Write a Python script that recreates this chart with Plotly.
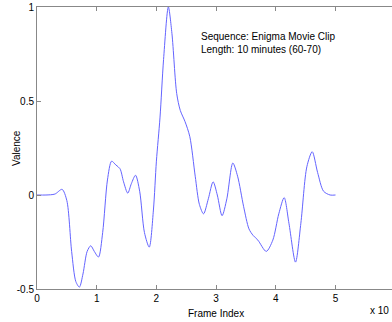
import plotly.graph_objects as go

frame_idx = [0, 0.15, 0.3, 0.42, 0.5, 0.58, 0.65, 0.71, 0.77, 0.84, 0.90, 0.96, 1.03,
             1.10, 1.18, 1.25, 1.32, 1.39, 1.45, 1.52, 1.58, 1.65, 1.72, 1.80, 1.88,
             1.95, 2.0, 2.06, 2.12, 2.2, 2.26, 2.34, 2.40, 2.48, 2.56, 2.65, 2.72, 2.79,
             2.87, 2.95, 3.02, 3.10, 3.18, 3.28, 3.36, 3.46, 3.55, 3.62, 3.70, 3.84,
             3.95, 4.05, 4.14, 4.22, 4.33, 4.42, 4.52, 4.61, 4.70, 4.80, 4.91, 5.0]
valence = [0, 0, 0.005, 0.03, -0.03, -0.3, -0.46, -0.49, -0.42, -0.30, -0.27, -0.30, -0.33,
           -0.20, 0.08, 0.18, 0.16, 0.14, 0.07, 0.01, 0.06, 0.105, 0.02, -0.20, -0.277,
           -0.08, 0.18, 0.41, 0.72, 1.0, 0.86, 0.54, 0.45, 0.39, 0.31, 0.10, -0.05, -0.10,
           -0.02, 0.07, 0.0, -0.11, -0.02, 0.17, 0.10, -0.06, -0.18, -0.215, -0.24, -0.30,
           -0.24, -0.10, -0.014, -0.15, -0.357, -0.15, 0.15, 0.23, 0.12, 0.02, 0.0, 0.0]
x_ticks = [0, 1, 2, 3, 4, 5]
y_ticks = [-0.5, 0, 0.5, 1]
y_tick_text = ["-0.5", "0", "0.5", "1"]

font = dict(family="Liberation Sans, Arial, sans-serif", size=10, color="black")

fig = go.Figure()
fig.add_trace(go.Scatter(x=frame_idx, y=valence, mode="lines",
                         line=dict(color="rgb(100,100,255)", width=1, shape="spline", smoothing=0.8),
                         showlegend=False, hoverinfo="skip"))

# pixel positions of free texts (centres)
pw, ph = 355, 282
def px2paper(px, py):
    return (px - 37) / pw, (289 - py) / ph

fx, fy = px2paper(216, 313)
vx, vy = px2paper(16, 148)
ex, ey = px2paper(391, 310)

fig.update_layout(
    width=392, height=322,
    margin=dict(l=37, r=0, t=7, b=33),
    plot_bgcolor="white", paper_bgcolor="white",
    font=font,
    xaxis=dict(range=[0, 355 / 59.7], tickvals=x_ticks, ticks="inside", ticklen=4,
               tickcolor="#888", showline=True, linecolor="#888", linewidth=1,
               mirror="ticks", showgrid=False, zeroline=False, tickfont=font),
    yaxis=dict(range=[-0.5, 1], tickvals=y_ticks, ticktext=y_tick_text, ticks="inside",
               ticklen=4, tickcolor="#888", showline=True, linecolor="#888", linewidth=1,
               showgrid=False, zeroline=False, tickfont=font),
    annotations=[
        dict(x=2.71, y=0.81, xref="x", yref="y", xanchor="left", yanchor="middle",
             align="left", showarrow=False,
             text="Sequence: Enigma Movie Clip<br>Length: 10 minutes (60-70)", font=font),
        dict(x=fx, y=fy, xref="paper", yref="paper", xanchor="center", yanchor="middle",
             showarrow=False, text="Frame Index", font=font),
        dict(x=vx, y=vy, xref="paper", yref="paper", xanchor="center", yanchor="middle",
             showarrow=False, text="Valence", textangle=-90, font=font),
        dict(x=ex, y=ey, xref="paper", yref="paper", xanchor="right", yanchor="middle",
             showarrow=False, text="x 10", font=font),
    ],
)

fig.write_html("out.html")
